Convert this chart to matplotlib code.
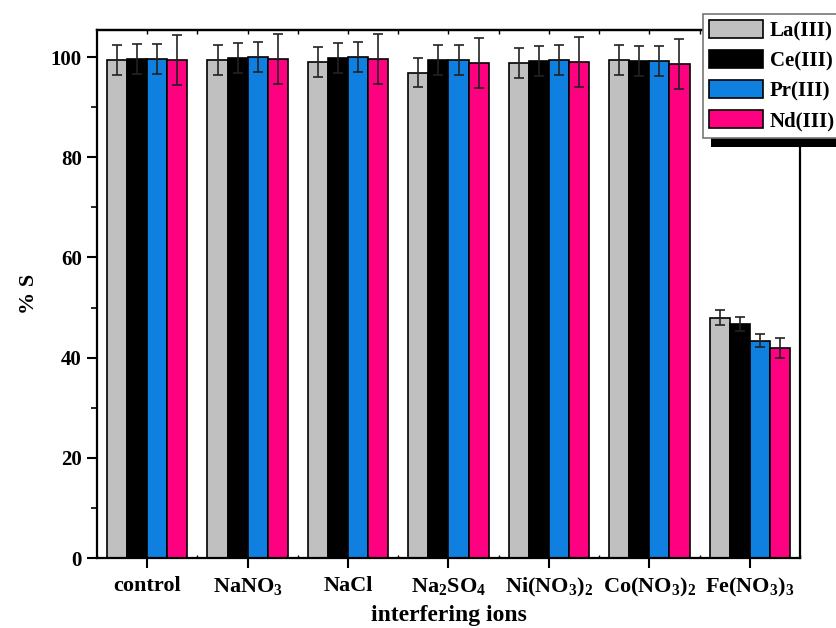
import matplotlib
matplotlib.use('Agg')
import matplotlib.pyplot as plt
from matplotlib.patches import Rectangle
import numpy as np

plt.rcParams['font.family'] = ['Liberation Serif', 'DejaVu Serif']
plt.rcParams['font.weight'] = 'bold'
plt.rcParams['mathtext.fontset'] = 'custom'
plt.rcParams['mathtext.rm'] = 'Liberation Serif:bold'
plt.rcParams['mathtext.bf'] = 'Liberation Serif:bold'
plt.rcParams['mathtext.default'] = 'rm'

categories = ['control', 'NaNO$_3$', 'NaCl', 'Na$_2$SO$_4$',
              'Ni(NO$_3$)$_2$', 'Co(NO$_3$)$_2$', 'Fe(NO$_3$)$_3$']
series = ['La(III)', 'Ce(III)', 'Pr(III)', 'Nd(III)']
la = [99.4, 99.4, 99.0, 96.9, 98.9, 99.4, 48.0]
ce = [99.7, 99.9, 99.9, 99.4, 99.3, 99.3, 46.8]
pr = [99.7, 100.1, 100.0, 99.5, 99.5, 99.2, 43.4]
nd = [99.4, 99.7, 99.7, 98.9, 99.0, 98.7, 41.9]
la_err = [3.0, 3.0, 3.0, 2.9, 3.0, 3.0, 1.5]
ce_err = [3.0, 3.0, 3.0, 3.0, 3.0, 3.0, 1.4]
pr_err = [3.0, 3.0, 3.0, 3.0, 3.0, 3.0, 1.3]
nd_err = [5.0, 5.0, 5.0, 5.0, 5.0, 5.0, 2.0]
colors = ['#C0C0C0', '#000000', '#1080E0', '#FF0080']

values = [la, ce, pr, nd]
errors = [la_err, ce_err, pr_err, nd_err]

fig = plt.figure(figsize=(8.36, 6.28), dpi=100)
ax = fig.add_axes([97/836, 1-558/628, 703/836, 528/628])

x = np.arange(1, len(categories) + 1)
w = 0.2
offsets = [-0.3, -0.1, 0.1, 0.3]
handles = []
for vals, errs, c, off, name in zip(values, errors, colors, offsets, series):
    b = ax.bar(x + off, vals, w, color=c, edgecolor='black', linewidth=1.2,
               label=name, zorder=2)
    ax.errorbar(x + off, vals, yerr=errs, fmt='none', ecolor='#222222',
                elinewidth=1.2, capsize=3.6, capthick=1.2, zorder=3)
    handles.append(b)

ax.set_xlim(0.5, 7.5)
ax.set_ylim(0, 105.4)
ax.set_xticks(x)
ax.set_xticklabels(categories, fontsize=16, fontweight='bold')
ax.set_xticks(np.arange(0.5, 7.6, 1.0), minor=True)
ax.set_yticks(np.arange(0, 101, 20))
ax.set_yticklabels([str(v) for v in range(0, 101, 20)], fontsize=15, fontweight='bold')
ax.set_yticks(np.arange(10, 101, 20), minor=True)

for s in ax.spines.values():
    s.set_linewidth(1.6)

ax.tick_params(axis='x', which='major', direction='out', length=7, width=1.5, pad=6)
ax.tick_params(axis='x', which='minor', direction='in', length=2.5, width=1.0)
ax.tick_params(axis='y', which='major', direction='out', length=7, width=1.5, pad=4)
ax.tick_params(axis='y', which='minor', direction='out', length=4, width=1.2)

top = ax.secondary_xaxis('top')
top.set_xticks(np.arange(1.0, 7.6, 0.5))
top.tick_params(direction='in', length=3, width=1.0, labeltop=False)
top.spines['top'].set_linewidth(1.6)

ax.set_ylabel('% S', fontsize=16, fontweight='bold', labelpad=8)
ax.set_xlabel('interfering ions', fontsize=17, fontweight='bold', labelpad=4)

# legend shadow
fig.patches.append(Rectangle((711/836, 1-147/628), 140/836, 125/628,
                             transform=fig.transFigure, facecolor='black',
                             edgecolor='none', zorder=4))
leg = fig.legend(handles, series, loc='upper left',
                 bbox_to_anchor=(703/836, 1-14/628), bbox_transform=fig.transFigure,
                 prop={'weight': 'bold', 'size': 15},
                 handlelength=2.6, handleheight=0.96, labelspacing=0.42,
                 handletextpad=0.3, borderpad=0.3, borderaxespad=0,
                 frameon=True, fancybox=False, framealpha=1, edgecolor='#777777')
leg.get_frame().set_linewidth(1.2)
leg.set_zorder(5)

fig.savefig('out.png', dpi=100)
